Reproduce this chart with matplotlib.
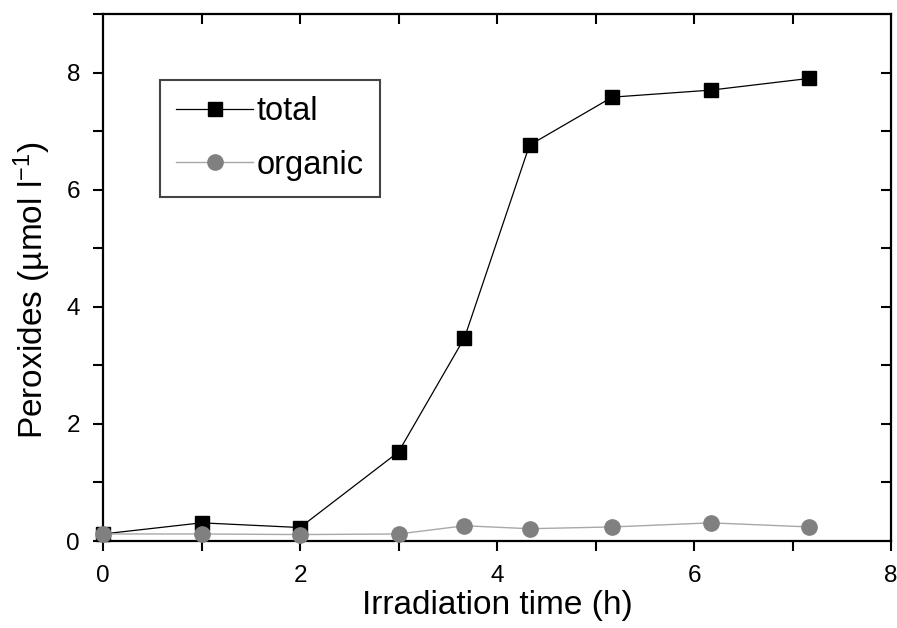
import matplotlib
matplotlib.use("Agg")
import matplotlib.pyplot as plt
from matplotlib.ticker import MultipleLocator

plt.rcParams['font.family'] = ['Liberation Sans', 'DejaVu Sans']
plt.rcParams['mathtext.default'] = 'regular'

hours = [0, 1, 2, 3, 3.67, 4.33, 5.17, 6.17, 7.17]
total = [0.12, 0.31, 0.23, 1.52, 3.47, 6.76, 7.58, 7.70, 7.90]
organic = [0.12, 0.12, 0.11, 0.12, 0.26, 0.21, 0.24, 0.31, 0.24]

fig = plt.figure(figsize=(8.97, 6.28), dpi=100)
ax = fig.add_axes([103 / 897, 87 / 628, 788 / 897, 527 / 628])

ax.plot(hours, total, color='black', lw=0.9, marker='s', ms=10,
        mfc='black', mec='black', label='total', zorder=3, clip_on=False)
ax.plot(hours, organic, color='#a8a8a8', lw=1.0, marker='o', ms=11,
        mfc='#808080', mec='#808080', label='organic', zorder=4,
        clip_on=False)

ax.set_xlim(0, 8)
ax.set_ylim(0, 9)
ax.xaxis.set_major_locator(MultipleLocator(2))
ax.xaxis.set_minor_locator(MultipleLocator(1))
ax.yaxis.set_major_locator(MultipleLocator(2))
ax.yaxis.set_minor_locator(MultipleLocator(1))

for s in ax.spines.values():
    s.set_linewidth(1.6)

ax.tick_params(which='both', direction='out', length=7.5, width=1.5,
               labelsize=17.5)
ax.tick_params(axis='y', pad=9)
ax.tick_params(axis='x', pad=10)
# inward ticks on top and right, no labels
top = ax.secondary_xaxis('top')
top.set_xticks([1, 2, 3, 4, 5, 6, 7])
top.tick_params(direction='in', length=7.5, width=1.5, labeltop=False)
top.spines['top'].set_visible(False)
right = ax.secondary_yaxis('right')
right.set_yticks([1, 2, 3, 4, 5, 6, 7, 8])
right.tick_params(direction='in', length=7.5, width=1.5, labelright=False)
right.spines['right'].set_visible(False)

ax.set_xlabel('Irradiation time (h)', fontsize=24)
ax.set_ylabel('Peroxides (µmol l$^{-1}$)', fontsize=24)
ax.xaxis.set_label_coords(0.5, -0.093)
ax.yaxis.set_label_coords(-0.063, 0.476)

leg = ax.legend(loc='upper left',
                bbox_to_anchor=(160 / 897, 1 - 80 / 628),
                bbox_transform=fig.transFigure, borderaxespad=0,
                fontsize=23.5, numpoints=1, handlelength=2.35,
                handletextpad=0.1, labelspacing=0.68, borderpad=0.5,
                fancybox=False, framealpha=1, edgecolor='#444444')
leg.get_frame().set_linewidth(1.5)

fig.savefig('out.png', dpi=100)
